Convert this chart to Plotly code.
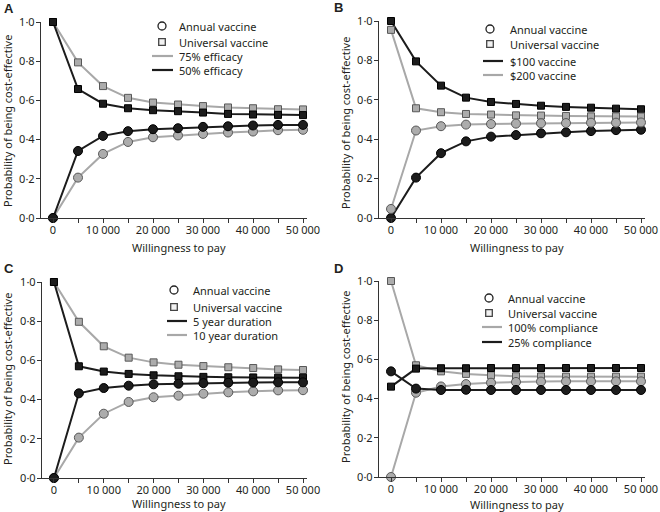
import plotly.graph_objects as go

wtp = [0, 5000, 10000, 15000, 20000, 25000, 30000, 35000, 40000, 45000, 50000]

# Panel A: efficacy
a_univ_75 = [1.0, 0.794, 0.673, 0.613, 0.589, 0.579, 0.571, 0.564, 0.560, 0.555, 0.554]
a_annual_75 = [0.0, 0.206, 0.327, 0.388, 0.412, 0.421, 0.429, 0.436, 0.441, 0.448, 0.450]
a_univ_50 = [1.0, 0.658, 0.583, 0.560, 0.550, 0.545, 0.538, 0.531, 0.528, 0.526, 0.525]
a_annual_50 = [0.0, 0.342, 0.419, 0.443, 0.453, 0.458, 0.465, 0.468, 0.472, 0.475, 0.475]

# Panel B: vaccine price
b_univ_100 = [1.0, 0.795, 0.672, 0.611, 0.589, 0.579, 0.570, 0.564, 0.560, 0.555, 0.552]
b_annual_100 = [0.0, 0.205, 0.329, 0.389, 0.413, 0.421, 0.430, 0.435, 0.441, 0.446, 0.448]
b_univ_200 = [0.955, 0.557, 0.537, 0.528, 0.525, 0.521, 0.520, 0.518, 0.516, 0.516, 0.515]
b_annual_200 = [0.046, 0.444, 0.466, 0.474, 0.477, 0.479, 0.481, 0.482, 0.484, 0.484, 0.485]

# Panel C: duration
c_univ_5 = [1.0, 0.570, 0.543, 0.531, 0.524, 0.519, 0.516, 0.514, 0.513, 0.512, 0.512]
c_annual_5 = [0.0, 0.432, 0.459, 0.471, 0.478, 0.481, 0.484, 0.486, 0.487, 0.488, 0.488]
c_univ_10 = [1.0, 0.797, 0.672, 0.614, 0.590, 0.578, 0.571, 0.565, 0.561, 0.554, 0.551]
c_annual_10 = [0.0, 0.206, 0.328, 0.388, 0.412, 0.420, 0.430, 0.437, 0.442, 0.447, 0.448]

# Panel D: compliance
d_univ_100 = [1.0, 0.570, 0.539, 0.526, 0.519, 0.514, 0.513, 0.512, 0.512, 0.512, 0.512]
d_annual_100 = [0.0, 0.430, 0.462, 0.474, 0.481, 0.485, 0.487, 0.488, 0.488, 0.488, 0.488]
d_univ_25 = [0.461, 0.553, 0.555, 0.555, 0.556, 0.556, 0.556, 0.556, 0.556, 0.556, 0.556]
d_annual_25 = [0.539, 0.451, 0.444, 0.445, 0.444, 0.444, 0.444, 0.444, 0.444, 0.444, 0.444]

y_ticks = [0, 0.2, 0.4, 0.6, 0.8, 1.0]
y_ticktext = ["0·0", "0·2", "0·4", "0·6", "0·8", "1·0"]
x_ticks = wtp
x_ticktext = ["0", "", "10 000", "", "20 000", "", "30 000", "", "40 000", "", "50 000"]

x_title = "Willingness to pay"
y_title = "Probability of being cost-effective"

legend_labels = {
    "A": ["Annual vaccine", "Universal vaccine", "75% efficacy", "50% efficacy"],
    "B": ["Annual vaccine", "Universal vaccine", "$100 vaccine", "$200 vaccine"],
    "C": ["Annual vaccine", "Universal vaccine", "5 year duration", "10 year duration"],
    "D": ["Annual vaccine", "Universal vaccine", "100% compliance", "25% compliance"],
}

GRAY_LINE = "#a8a8a8"
GRAY_FILL = "#acacac"
GRAY_EDGE = "#585858"
BLACK = "#1c1c1c"
TEXT = "#231f20"
FONT = "Noto Sans"

W, H = 660, 512


def px(x):
    return x / W


def py(y):
    return 1 - y / H


fig = go.Figure()


def add_series(ax, univ, annual, dark):
    xa = "x" if ax == 1 else f"x{ax}"
    ya = "y" if ax == 1 else f"y{ax}"
    lc = BLACK if dark else GRAY_LINE
    fc = BLACK if dark else GRAY_FILL
    ec = "#000000" if dark else GRAY_EDGE
    fig.add_trace(go.Scatter(x=wtp, y=univ, xaxis=xa, yaxis=ya, mode="lines+markers",
                             line=dict(color=lc, width=2),
                             marker=dict(symbol="square", size=7, color=fc, line=dict(color=ec, width=1)),
                             cliponaxis=False, showlegend=False, hoverinfo="skip"))
    fig.add_trace(go.Scatter(x=wtp, y=annual, xaxis=xa, yaxis=ya, mode="lines+markers",
                             line=dict(color=lc, width=2),
                             marker=dict(symbol="circle", size=9, color=fc, line=dict(color=ec, width=1)),
                             cliponaxis=False, showlegend=False, hoverinfo="skip"))


# A: gray (75%) under black (50%)
add_series(1, a_univ_75, a_annual_75, False)
add_series(1, a_univ_50, a_annual_50, True)
# B: black ($100) under gray ($200)
add_series(2, b_univ_100, b_annual_100, True)
add_series(2, b_univ_200, b_annual_200, False)
# C: gray (10 yr) under black (5 yr)
add_series(3, c_univ_10, c_annual_10, False)
add_series(3, c_univ_5, c_annual_5, True)
# D: gray (100%) under black (25%)
add_series(4, d_univ_100, d_annual_100, False)
add_series(4, d_univ_25, d_annual_25, True)

# Layout geometry (pixels)
panels = {
    1: dict(x0=41, x1=307, y0=22, y1=218, xt=(179, 247), yt=(7, 121)),
    2: dict(x0=379, x1=645, y0=21, y1=218, xt=(517, 247), yt=(345, 123)),
    3: dict(x0=42, x1=307, y0=282, y1=478, xt=(179, 503), yt=(7, 379)),
    4: dict(x0=379, x1=645, y0=281, y1=477, xt=(517, 504), yt=(345, 377)),
}

axis_common = dict(showgrid=False, zeroline=False, showline=True, linecolor="#333333", linewidth=1.3,
                   ticks="outside", ticklen=4, tickwidth=1.2, tickcolor="#333333", automargin=False,
                   tickfont=dict(family=FONT, size=11, color=TEXT))

layout = dict(width=W, height=H, margin=dict(l=0, r=0, t=0, b=0, autoexpand=False),
              paper_bgcolor="white", plot_bgcolor="white", showlegend=False)

for i, p in panels.items():
    xk = "xaxis" if i == 1 else f"xaxis{i}"
    yk = "yaxis" if i == 1 else f"yaxis{i}"
    ya = "y" if i == 1 else f"y{i}"
    xa = "x" if i == 1 else f"x{i}"
    # x value at axis left edge: 0 is 12px right of axis, 5px per 1000
    layout[xk] = dict(axis_common, domain=[px(p["x0"]), px(p["x1"])], anchor=ya,
                      range=[-2400, 50800], tickvals=x_ticks, ticktext=x_ticktext,
                      ticklabelstandoff=-2)
    layout[yk] = dict(axis_common, domain=[py(p["y1"]), py(p["y0"])], anchor=xa,
                      range=[0, 1.0], tickvals=y_ticks, ticktext=y_ticktext,
                      ticklabelstandoff=-1)

fig.update_layout(**layout)

for i, p in panels.items():
    fig.add_annotation(x=px(p["xt"][0]), y=py(p["xt"][1]), xref="paper", yref="paper", text=x_title,
                       showarrow=False, xanchor="center", yanchor="middle",
                       font=dict(family=FONT, size=11, color=TEXT))
    fig.add_annotation(x=px(p["yt"][0]), y=py(p["yt"][1]), xref="paper", yref="paper", text=y_title,
                       showarrow=False, xanchor="center", yanchor="middle", textangle=-90,
                       font=dict(family=FONT, size=11, color=TEXT))

# Panel letters
letters = {"A": (2, 8), "B": (332, 7), "C": (2, 268), "D": (332, 268)}
for lt, (lx, ly) in letters.items():
    fig.add_annotation(x=px(lx), y=py(ly), xref="paper", yref="paper", text=f"<b>{lt}</b>",
                       showarrow=False, xanchor="left", yanchor="middle",
                       font=dict(family="Liberation Sans", size=13, color=TEXT))

# Legends (custom keys)
legend_pos = {
    "A": dict(cx=162, ys=[26, 42, 56, 70], lx0=152, lx1=173, tx=177, colors=[GRAY_LINE, BLACK]),
    "B": dict(cx=490, ys=[29, 44, 61, 75], lx0=483, lx1=503, tx=508, colors=[BLACK, GRAY_LINE]),
    "C": dict(cx=174, ys=[290, 307, 321, 335], lx0=167, lx1=187, tx=191, colors=[BLACK, GRAY_LINE]),
    "D": dict(cx=489, ys=[298, 313, 327, 342], lx0=482, lx1=502, tx=506, colors=[GRAY_LINE, BLACK]),
}

for key, lp in legend_pos.items():
    cx = lp["cx"]
    ys = lp["ys"]
    r = 4
    fig.add_shape(type="circle", xref="paper", yref="paper",
                  x0=px(cx - r), x1=px(cx + r), y0=py(ys[0] + r), y1=py(ys[0] - r),
                  line=dict(color="#222222", width=1.3), fillcolor="white")
    s = 3.3
    fig.add_shape(type="rect", xref="paper", yref="paper",
                  x0=px(cx - s), x1=px(cx + s), y0=py(ys[1] + s), y1=py(ys[1] - s),
                  line=dict(color="#444444", width=1.3), fillcolor="#f2f2f2")
    for j in range(2):
        fig.add_shape(type="line", xref="paper", yref="paper",
                      x0=px(lp["lx0"]), x1=px(lp["lx1"]), y0=py(ys[2 + j]), y1=py(ys[2 + j]),
                      line=dict(color=lp["colors"][j], width=2.2))
    for j, lab in enumerate(legend_labels[key]):
        fig.add_annotation(x=px(lp["tx"]), y=py(ys[j]), xref="paper", yref="paper", text=lab,
                           showarrow=False, xanchor="left", yanchor="middle",
                           font=dict(family=FONT, size=11, color=TEXT))

fig.write_html("out.html", config={"displayModeBar": False},
               post_script="document.body.style.margin='0px';document.body.style.overflow='hidden';")
